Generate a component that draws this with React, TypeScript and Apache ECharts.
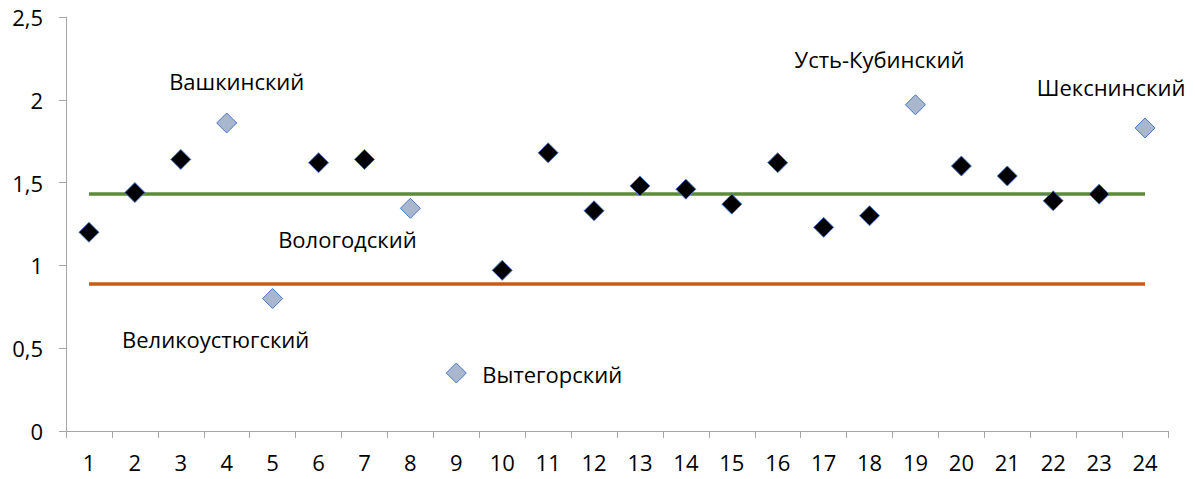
import React, { useEffect, useRef } from "react";
import * as echarts from "echarts";

const categories = ["1","2","3","4","5","6","7","8","9","10","11","12","13","14","15","16","17","18","19","20","21","22","23","24"];
const values = [1.2, 1.44, 1.64, 1.86, 0.8, 1.62, 1.64, 1.345, 0.35, 0.97, 1.68, 1.33, 1.48, 1.46, 1.37, 1.62, 1.23, 1.3, 1.97, 1.6, 1.54, 1.39, 1.43, 1.83];
const highlighted = ["4", "5", "8", "9", "19", "24"];
const districtNames: Record<string, string> = {
  "4": "Вашкинский",
  "5": "Великоустюгский",
  "8": "Вологодский",
  "9": "Вытегорский",
  "19": "Усть-Кубинский",
  "24": "Шекснинский",
};
const greenLevel = 1.43;
const orangeLevel = 0.89;
const yTicks = { min: 0, max: 2.5, interval: 0.5 };

const labelOffsets: Record<string, [number, number, string]> = {
  "4": [10, -42, "center"],
  "5": [-57, 40, "center"],
  "8": [-63, 31, "center"],
  "9": [26, 1, "left"],
  "19": [-36, -46, "center"],
  "24": [-34, -41, "center"],
};

const FONT = "'Open Sans', 'Noto Sans', sans-serif";
const FS = 22;

export default function App() {
  const ref = useRef<HTMLDivElement>(null);
  useEffect(() => {
    document.body.style.margin = "0";
    const chart = echarts.init(ref.current!, undefined, { renderer: "svg" });
    const data = categories.map((c, i) => {
      const hl = highlighted.includes(c);
      const item: any = {
        value: [c, values[i]],
        itemStyle: { color: hl ? "#A9B7CE" : "#000000", borderColor: "#4A78C8", borderWidth: 1, opacity: 1 },
      };
      if (hl) {
        const [dx, dy, align] = labelOffsets[c];
        item.label = {
          show: true,
          formatter: districtNames[c],
          position: "inside",
          offset: [dx, dy],
          align: align,
          verticalAlign: "middle",
          color: "#000",
          fontSize: FS,
          fontFamily: FONT,
        };
      }
      return item;
    });
    const lineStyleBase = { type: "solid" as const, width: 3.5 };
    chart.setOption({
      animation: false,
      textStyle: { fontFamily: FONT },
      grid: { left: 66, right: 27, top: 17, bottom: 48, containLabel: false },
      xAxis: {
        type: "category",
        data: categories,
        boundaryGap: true,
        axisLine: { lineStyle: { color: "#A6A6A6", width: 1 } },
        axisTick: { show: true, length: 7, lineStyle: { color: "#A6A6A6" } },
        axisLabel: { color: "#000", fontSize: FS, fontFamily: FONT, margin: 20, interval: 0 },
        splitLine: { show: false },
      },
      yAxis: {
        type: "value",
        min: yTicks.min,
        max: yTicks.max,
        interval: yTicks.interval,
        axisLine: { show: true, lineStyle: { color: "#A6A6A6", width: 1 } },
        axisTick: { show: true, length: 7, lineStyle: { color: "#A6A6A6" } },
        axisLabel: {
          color: "#000",
          fontSize: FS,
          fontFamily: FONT,
          margin: 23,
          formatter: (v: number) => String(v).replace(".", ","),
        },
        splitLine: { show: false },
      },
      series: [
        {
          type: "line",
          data: [],
          z: 1,
          markLine: {
            silent: true,
            symbol: "none",
            label: { show: false },
            data: [
              [
                { coord: [categories[0], greenLevel], lineStyle: { ...lineStyleBase, color: "#5C8B3A" } },
                { coord: [categories[categories.length - 1], greenLevel] },
              ],
              [
                { coord: [categories[0], orangeLevel], lineStyle: { ...lineStyleBase, color: "#C85A14" } },
                { coord: [categories[categories.length - 1], orangeLevel] },
              ],
            ],
          },
        },
        {
          type: "scatter",
          symbol: "diamond",
          symbolSize: 20,
          z: 5,
          data,
        },
      ],
    });
    return () => chart.dispose();
  }, []);
  return <div ref={ref} style={{ width: 1195, height: 479 }} />;
}
